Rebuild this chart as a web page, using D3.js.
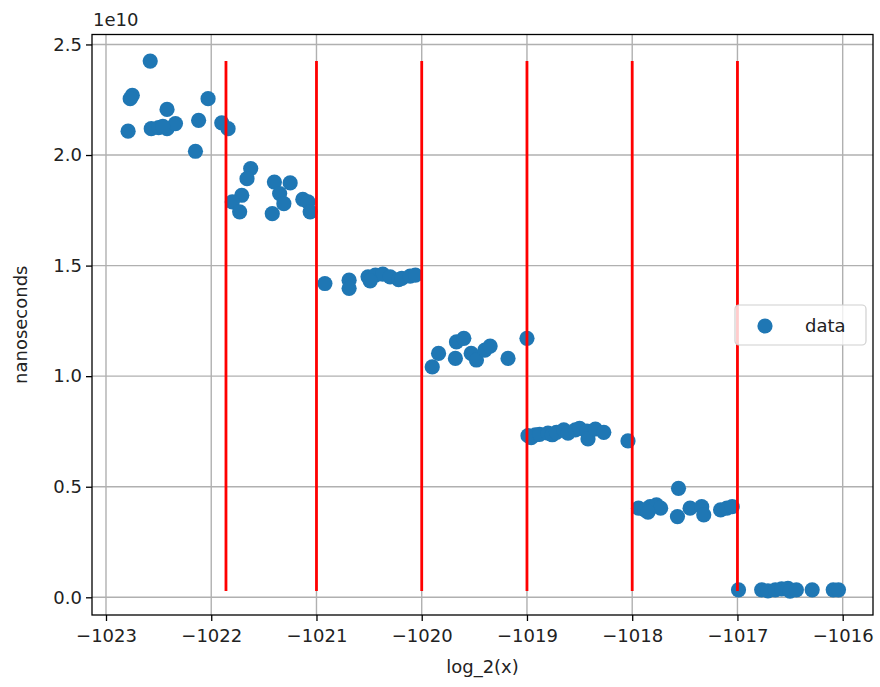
<!DOCTYPE html>
<html>
<head>
<meta charset="utf-8">
<script src="https://cdn.jsdelivr.net/npm/d3@7"></script>
<style>
  html, body { margin: 0; padding: 0; background: #fff; }
  svg { display: block; font-family: "DejaVu Sans", sans-serif; }
</style>
</head>
<body>
<svg id="chart" width="880" height="687"></svg>
<script>
// Measured timings: log_2(x) against nanoseconds (in units of 1e10)
const xValues = [
  -1022.58, -1022.75, -1022.77, -1022.79, -1022.57, -1022.50, -1022.42, -1022.42, -1022.34, -1022.46,
  -1022.12, -1022.03, -1022.15, -1021.90, -1021.84,
  -1021.625, -1021.66, -1021.71, -1021.80, -1021.73, -1021.40, -1021.25, -1021.35, -1021.31, -1021.42,
  -1021.13, -1021.08, -1021.06,
  -1020.92, -1020.69, -1020.69, -1020.51, -1020.44, -1020.37, -1020.30, -1020.22, -1020.19, -1020.11,
  -1020.06, -1020.49,
  -1019.90, -1019.84, -1019.67, -1019.60, -1019.68, -1019.53, -1019.48, -1019.40, -1019.35, -1019.18,
  -1019.00,
  -1018.99, -1018.96, -1018.92, -1018.88, -1018.80, -1018.76, -1018.72, -1018.65, -1018.61, -1018.54,
  -1018.50, -1018.43, -1018.42, -1018.35, -1018.27, -1018.04,
  -1017.94, -1017.88, -1017.83, -1017.77, -1017.73, -1017.85, -1017.56, -1017.57, -1017.45, -1017.34,
  -1017.32, -1017.16, -1017.10, -1017.05,
  -1016.99, -1016.77, -1016.71, -1016.64, -1016.58, -1016.52, -1016.50, -1016.44, -1016.29, -1016.09,
  -1016.04
];
const yValues = [
  2.425, 2.270, 2.255, 2.108, 2.119, 2.124, 2.206, 2.119, 2.142, 2.130,
  2.157, 2.255, 2.017, 2.145, 2.119,
  1.939, 1.893, 1.818, 1.788, 1.743, 1.878, 1.874, 1.826, 1.780, 1.735,
  1.799, 1.788, 1.743,
  1.419, 1.434, 1.397, 1.449, 1.457, 1.461, 1.449, 1.437, 1.442, 1.452,
  1.457, 1.431,
  1.042, 1.103, 1.155, 1.171, 1.080, 1.103, 1.073, 1.118, 1.136, 1.080,
  1.171,
  0.731, 0.722, 0.735, 0.737, 0.742, 0.735, 0.746, 0.757, 0.742, 0.757,
  0.764, 0.752, 0.716, 0.761, 0.746, 0.707,
  0.403, 0.395, 0.410, 0.418, 0.403, 0.385, 0.493, 0.365, 0.403, 0.410,
  0.373, 0.395, 0.403, 0.410,
  0.034, 0.034, 0.029, 0.034, 0.038, 0.040, 0.028, 0.034, 0.034, 0.034,
  0.034
];
// Vertical reference lines at these log_2(x) positions
const boundaries = [-1021.86, -1021, -1020, -1019, -1018, -1017];
const xTickValues = [-1023, -1022, -1021, -1020, -1019, -1018, -1017, -1016];
const yTickValues = [0, 0.5, 1.0, 1.5, 2.0, 2.5];

const points = xValues.map((x, i) => ({ x, y: yValues[i] }));

const svg = d3.select("#chart");
const plot = { left: 92, right: 873, top: 34.5, bottom: 615 };

const x = d3.scaleLinear().domain([-1023.133, -1015.712]).range([plot.left, plot.right]);
const y = d3.scaleLinear().domain([-0.08, 2.545]).range([plot.bottom, plot.top]);

const fontSize = 18;
const gridColor = "#b0b0b0";

// grid
const grid = svg.append("g");
grid.selectAll("line.gx").data(xTickValues).join("line")
  .attr("x1", d => x(d)).attr("x2", d => x(d))
  .attr("y1", plot.top).attr("y2", plot.bottom)
  .attr("stroke", gridColor).attr("stroke-width", 1.4);
grid.selectAll("line.gy").data(yTickValues).join("line")
  .attr("x1", plot.left).attr("x2", plot.right)
  .attr("y1", d => y(d)).attr("y2", d => y(d))
  .attr("stroke", gridColor).attr("stroke-width", 1.4);

// scatter points
svg.append("g").selectAll("circle").data(points).join("circle")
  .attr("cx", d => x(d.x)).attr("cy", d => y(d.y))
  .attr("r", 7.6)
  .attr("fill", "#1f77b4");

// vertical lines spanning the data's value range
const [yMin, yMax] = d3.extent(yValues);
svg.append("g").selectAll("line").data(boundaries).join("line")
  .attr("x1", d => x(d)).attr("x2", d => x(d))
  .attr("y1", y(yMin)).attr("y2", y(yMax))
  .attr("stroke", "#ff0000").attr("stroke-width", 2.8);

// axes
const fmtMinus = d => d3.format("d")(d).replace("-", "\u2212");
const xAxis = d3.axisBottom(x).tickValues(xTickValues).tickFormat(fmtMinus)
  .tickSize(6).tickPadding(8);
const yAxis = d3.axisLeft(y).tickValues(yTickValues).tickFormat(d3.format(".1f"))
  .tickSize(6).tickPadding(4);

const gx = svg.append("g").attr("transform", `translate(0,${plot.bottom})`).call(xAxis);
const gy = svg.append("g").attr("transform", `translate(${plot.left},0)`).call(yAxis);
[gx, gy].forEach(g => {
  g.select(".domain").remove();
  g.selectAll(".tick line").attr("stroke", "#000").attr("stroke-width", 1.3);
  g.selectAll(".tick text").attr("fill", "#222").style("font-size", fontSize + "px")
    .style("font-family", "'DejaVu Sans', sans-serif");
});

// frame
svg.append("rect")
  .attr("x", plot.left).attr("y", plot.top)
  .attr("width", plot.right - plot.left).attr("height", plot.bottom - plot.top)
  .attr("fill", "none").attr("stroke", "#000").attr("stroke-width", 1.3);

// labels
svg.append("text").attr("x", (plot.left + plot.right) / 2).attr("y", 673)
  .attr("text-anchor", "middle").attr("fill", "#222").style("font-size", fontSize + "px")
  .text("log_2(x)");
svg.append("text")
  .attr("transform", `translate(27,${(plot.top + plot.bottom) / 2}) rotate(-90)`)
  .attr("text-anchor", "middle").attr("fill", "#222").style("font-size", fontSize + "px")
  .text("nanoseconds");
svg.append("text").attr("x", plot.left + 1).attr("y", 26)
  .attr("fill", "#222").style("font-size", fontSize + "px")
  .text("1e10");

// legend
const legend = svg.append("g").attr("transform", "translate(735,305)");
legend.append("rect").attr("width", 131).attr("height", 40).attr("rx", 4)
  .attr("fill", "#fff").attr("fill-opacity", 0.8)
  .attr("stroke", "#d0d0d0").attr("stroke-width", 1.2);
legend.append("circle").attr("cx", 30).attr("cy", 21).attr("r", 7.6).attr("fill", "#1f77b4");
legend.append("text").attr("x", 70).attr("y", 27)
  .attr("fill", "#222").style("font-size", fontSize + "px").text("data");
</script>
</body>
</html>
